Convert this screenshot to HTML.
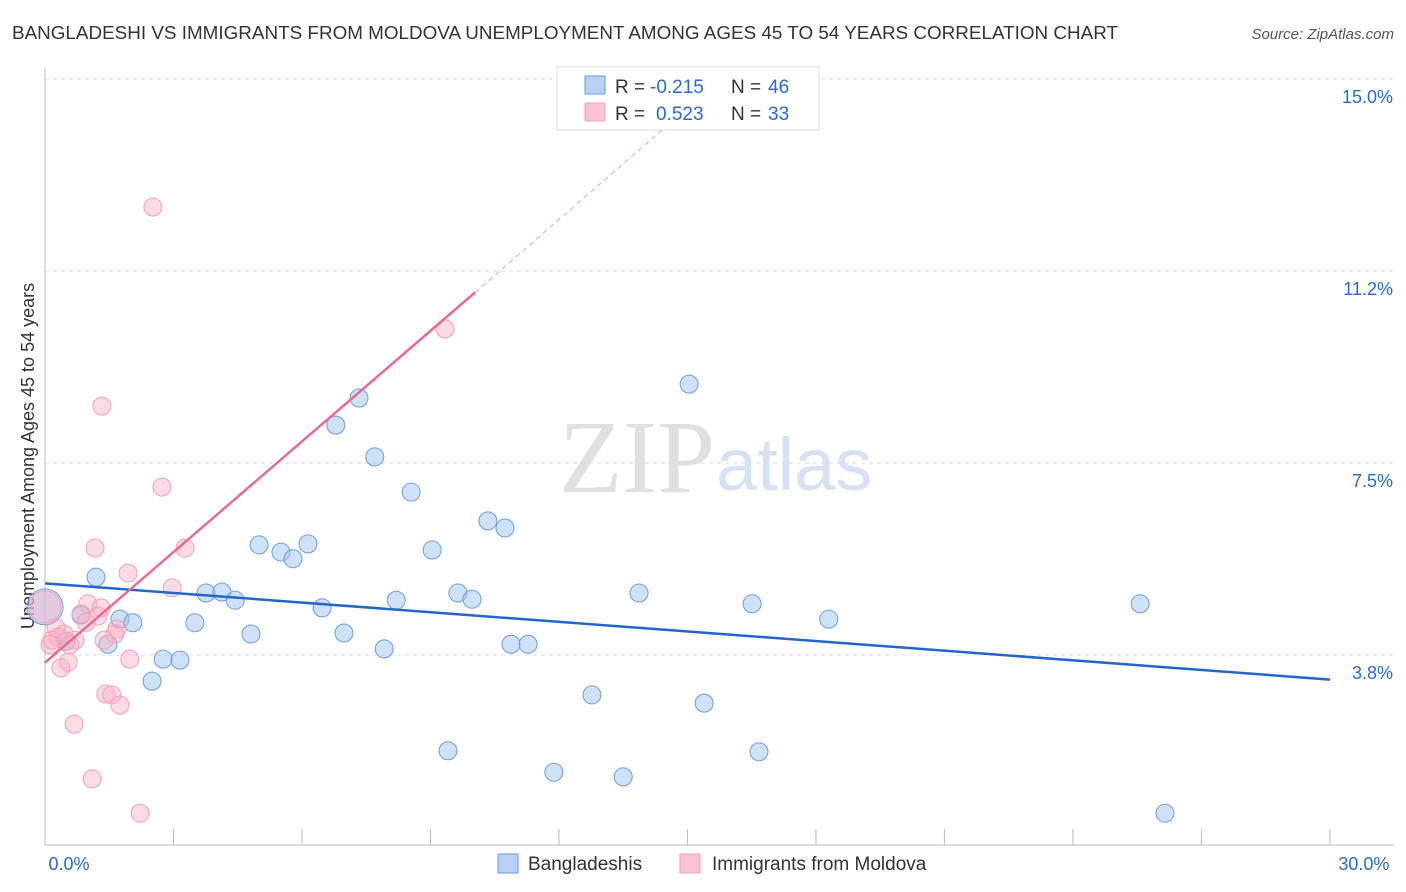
<!DOCTYPE html>
<html><head><meta charset="utf-8">
<style>
body{margin:0;background:#fff;font-family:"Liberation Sans",sans-serif;}
#wrap{position:relative;width:1406px;height:892px;overflow:hidden;}
</style></head>
<body>
<div id="wrap">
<svg id="svg" width="1406" height="892" xmlns="http://www.w3.org/2000/svg">
<text x="12" y="39" font-size="18" fill="#333" textLength="1106" lengthAdjust="spacingAndGlyphs">BANGLADESHI VS IMMIGRANTS FROM MOLDOVA UNEMPLOYMENT AMONG AGES 45 TO 54 YEARS CORRELATION CHART</text>
<text x="1394" y="39" font-size="15" fill="#555" font-style="italic" text-anchor="end">Source: ZipAtlas.com</text>
<text x="715" y="492" font-size="104" fill="#e0e0e0" text-anchor="end" font-family="Liberation Serif">ZIP</text>
<text x="716" y="490" font-size="74" fill="#d6e2f4">atlas</text>
<text transform="translate(34,456) rotate(-90)" font-size="18" fill="#333" text-anchor="middle">Unemployment Among Ages 45 to 54 years</text>
<g id="grid"></g><g id="pts"></g><g id="trend"></g>
<g>
<rect x="557" y="67" width="262" height="63" fill="#fff" stroke="#ddd"/>
<rect x="585" y="76" width="20" height="18" fill="#b8d0f4" stroke="#6a9ee0"/>
<text x="615" y="93" font-size="19" fill="#333">R =</text>
<text x="650" y="93" font-size="19" fill="#2a6ad0">-0.215</text>
<text x="731" y="93" font-size="19" fill="#333">N =</text>
<text x="768" y="93" font-size="19" fill="#2a6ad0">46</text>
<rect x="585" y="103" width="20" height="18" fill="#f8c4d4" stroke="#f0a0b8"/>
<text x="615" y="120" font-size="19" fill="#333">R =</text>
<text x="656" y="120" font-size="19" fill="#2a6ad0">0.523</text>
<text x="731" y="120" font-size="19" fill="#333">N =</text>
<text x="768" y="120" font-size="19" fill="#2a6ad0">33</text>
</g>
<g>
<rect x="498" y="854" width="20" height="19" fill="#b8d0f4" stroke="#6a9ee0"/>
<text x="528" y="870" font-size="19" fill="#333">Bangladeshis</text>
<rect x="680" y="854" width="20" height="19" fill="#f8c4d4" stroke="#f0a0b8"/>
<text x="712" y="870" font-size="19" fill="#333">Immigrants from Moldova</text>
</g>
</svg>
</div>
<script>
const yTicks=[3.75,7.5,11.25,15];
const yTickLabels=["3.8%","7.5%","11.2%","15.0%"];
const xTickLabels=["0.0%","30.0%"];
const blueX=[0.0,1.19,0.84,0.49,1.47,1.75,2.05,2.50,2.76,3.15,3.50,3.76,4.13,4.44,4.81,5.00,5.51,5.79,6.14,6.47,6.79,6.98,7.33,7.70,7.92,8.20,8.55,9.04,9.41,9.64,9.97,10.34,10.74,10.88,11.28,11.88,12.77,13.50,13.87,15.04,15.39,16.51,16.67,18.30,25.57,26.15];
const blueY=[4.69,5.27,4.53,4.02,3.96,4.45,4.38,3.24,3.67,3.65,4.38,4.96,4.98,4.82,4.16,5.90,5.76,5.63,5.92,4.67,8.24,4.18,8.77,7.62,3.87,4.82,6.93,5.80,1.88,4.96,4.84,6.37,6.23,3.96,3.96,1.46,2.97,1.37,4.96,9.04,2.81,4.75,1.86,4.45,4.75,0.66];
const pinkX=[2.52,9.34,1.33,2.73,1.17,3.27,1.94,2.97,1.00,1.31,0.84,1.24,0.96,0.26,0.44,1.68,0.30,0.16,0.70,0.58,1.98,0.54,0.37,1.42,1.56,1.75,0.68,1.10,2.22,1.63,0.0,0.12,1.38];
const pinkY=[12.50,10.12,8.61,7.03,5.84,5.84,5.35,5.06,4.75,4.67,4.55,4.51,4.39,4.28,4.16,4.26,4.10,4.04,4.04,3.95,3.67,3.61,3.50,2.99,2.97,2.77,2.40,1.33,0.66,4.16,4.69,3.95,4.04];
const blueTrend=[[0,5.15],[30,3.27]];
const pinkTrend=[[0,3.6],[10.04,10.83]];
const pinkDash=[[10.04,10.83],[14.47,14.05]];
const NS="http://www.w3.org/2000/svg";
const X=v=>45+v*42.83, Y=v=>847-v*51.2;
function mk(t,a,p){const e=document.createElementNS(NS,t);for(const k in a)e.setAttribute(k,a[k]);p.appendChild(e);return e;}
const grid=document.getElementById('grid');
yTicks.forEach((t,i)=>{
 const l=mk('line',{x1:45,x2:1394,y1:Y(t),y2:Y(t),stroke:'#ddd','stroke-dasharray':'4,4'},grid);
 
 
 const tx=mk('text',{x:1393,y:Y(t)+24,'font-size':18,fill:'#2a6ad0','text-anchor':'end'},grid);
 tx.textContent=yTickLabels[i];
 
 
});
let ax=mk('line',{x1:45,x2:45,y1:68,y2:845,stroke:'#bbb'},grid);


ax=mk('line',{x1:45,x2:1394,y1:845,y2:845,stroke:'#bbb'},grid);


for(let i=0;i<=10;i++){const t=mk('line',{x1:X(i*3),x2:X(i*3),y1:829,y2:845,stroke:'#bbb'},grid);
 
 }
[[0,X(0)+24,'middle'],[1,X(30)+34,'middle']].forEach(([i,x,a])=>{const t=mk('text',{x:x,y:870,'font-size':18,fill:'#2a6ad0','text-anchor':a},grid);t.textContent=xTickLabels[i];
 
 });
const pts=document.getElementById('pts');
blueX.forEach((x,i)=>{const c=mk('circle',{cx:X(x),cy:Y(blueY[i]),r:i==0?18:9,fill:'rgba(160,196,240,0.5)',stroke:'#6a9ee0','stroke-width':1},pts);
 
 });
pinkX.forEach((x,i)=>{const c=mk('circle',{cx:X(x),cy:Y(pinkY[i]),r:i==30?16:9,fill:'rgba(248,176,198,0.45)',stroke:'#f0a0b8','stroke-width':1},pts);
 
 });
const tr=document.getElementById('trend');
let l=mk('line',{x1:X(blueTrend[0][0]),y1:Y(blueTrend[0][1]),x2:X(blueTrend[1][0]),y2:Y(blueTrend[1][1]),stroke:'#2266cc','stroke-width':2.5},tr);


l=mk('line',{x1:X(pinkTrend[0][0]),y1:Y(pinkTrend[0][1]),x2:X(pinkTrend[1][0]),y2:Y(pinkTrend[1][1]),stroke:'#e86a92','stroke-width':2.5},tr);


l=mk('line',{x1:X(pinkDash[0][0]),y1:Y(pinkDash[0][1]),x2:X(pinkDash[1][0]),y2:Y(pinkDash[1][1]),stroke:'#f0a0b8','stroke-width':1,'stroke-dasharray':'5,4'},tr);


</script>
</body></html>
